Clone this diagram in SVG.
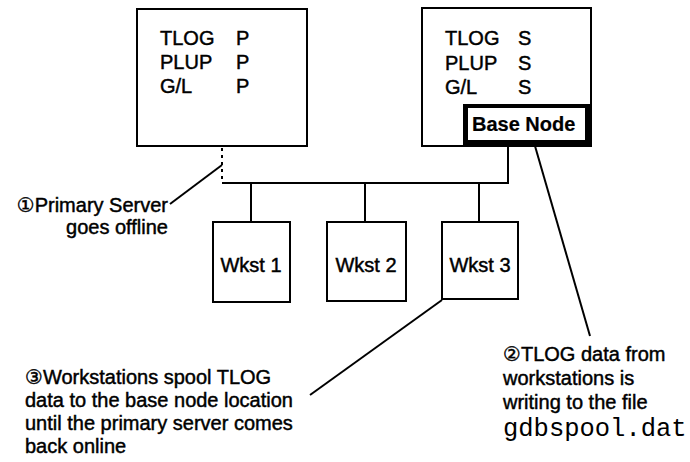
<svg xmlns="http://www.w3.org/2000/svg" width="690" height="462" viewBox="0 0 690 462">
  <style>
    .box { fill: #fff; stroke: #000; stroke-width: 2; }
    .wire { fill: none; stroke: #000; stroke-width: 2; }
    .dot { fill: none; stroke: #000; stroke-width: 2; stroke-dasharray: 3 4; }
    .t { font-family: "Liberation Sans", Arial, Helvetica, "DejaVu Sans", sans-serif; font-size: 20px; fill: #000; stroke: #000; stroke-width: 0.45; }
    .b { font-weight: bold; stroke-width: 0.2; }
    .mono { font-family: "Liberation Mono", "Courier New", monospace; font-size: 25.5px; fill: #000; }
  </style>
  <rect width="690" height="462" fill="#fff"/>

  <!-- network wiring -->
  <g id="connectors">
    <path class="dot" d="M222 148 V183"/>
    <path class="wire" d="M222 183 H508 V146"/>
    <path class="wire" d="M251 183 V222"/>
    <path class="wire" d="M365 183 V222"/>
    <path class="wire" d="M479 183 V222"/>
    <!-- callout leaders -->
    <path class="wire" d="M170 204 L222 165"/>
    <path class="wire" d="M535 146 L590 336"/>
    <path class="wire" d="M442 300 L310 395"/>
  </g>

  <g id="primary">
    <rect class="box" x="137" y="9" width="170" height="137"/>
    <text class="t" x="160" y="45">TLOG</text>
    <text class="t" x="236" y="45">P</text>
    <text class="t" x="160" y="69">PLUP</text>
    <text class="t" x="236" y="69">P</text>
    <text class="t" x="160" y="93">G/L</text>
    <text class="t" x="236" y="93">P</text>
  </g>

  <g id="secondary">
    <rect class="box" x="422" y="8" width="169" height="138"/>
    <text class="t" x="445" y="45">TLOG</text>
    <text class="t" x="518" y="45">S</text>
    <text class="t" x="445" y="70">PLUP</text>
    <text class="t" x="518" y="70">S</text>
    <text class="t" x="445" y="94">G/L</text>
    <text class="t" x="518" y="94">S</text>
  </g>

  <g id="base-node">
    <path d="M463 104 H592 V147 H463 Z M468 108 V140 H585 V108 Z" fill="#000" fill-rule="evenodd"/>
    <text class="t b" x="472" y="131">Base Node</text>
  </g>

  <g id="wkst1">
    <rect class="box" x="213" y="222" width="77" height="80"/>
    <text class="t" x="251" y="272" text-anchor="middle">Wkst 1</text>
  </g>
  <g id="wkst2">
    <rect class="box" x="327" y="222" width="79" height="79"/>
    <text class="t" x="366" y="272" text-anchor="middle">Wkst 2</text>
  </g>
  <g id="wkst3">
    <rect class="box" x="442" y="222" width="76" height="77"/>
    <text class="t" x="480" y="272" text-anchor="middle">Wkst 3</text>
  </g>

  <g id="note1">
    <text class="t" x="168" y="212" text-anchor="end">①Primary Server</text>
    <text class="t" x="168" y="234" text-anchor="end">goes offline</text>
  </g>

  <g id="note2">
    <text class="t" x="503" y="361">②TLOG data from</text>
    <text class="t" x="503" y="385">workstations is</text>
    <text class="t" x="503" y="409">writing to the file</text>
    <text class="mono" x="503" y="436">gdbspool.dat</text>
  </g>

  <g id="note3">
    <text class="t" x="25" y="384">③Workstations spool TLOG</text>
    <text class="t" x="25" y="407">data to the base node location</text>
    <text class="t" x="25" y="430">until the primary server comes</text>
    <text class="t" x="25" y="453">back online</text>
  </g>
</svg>
